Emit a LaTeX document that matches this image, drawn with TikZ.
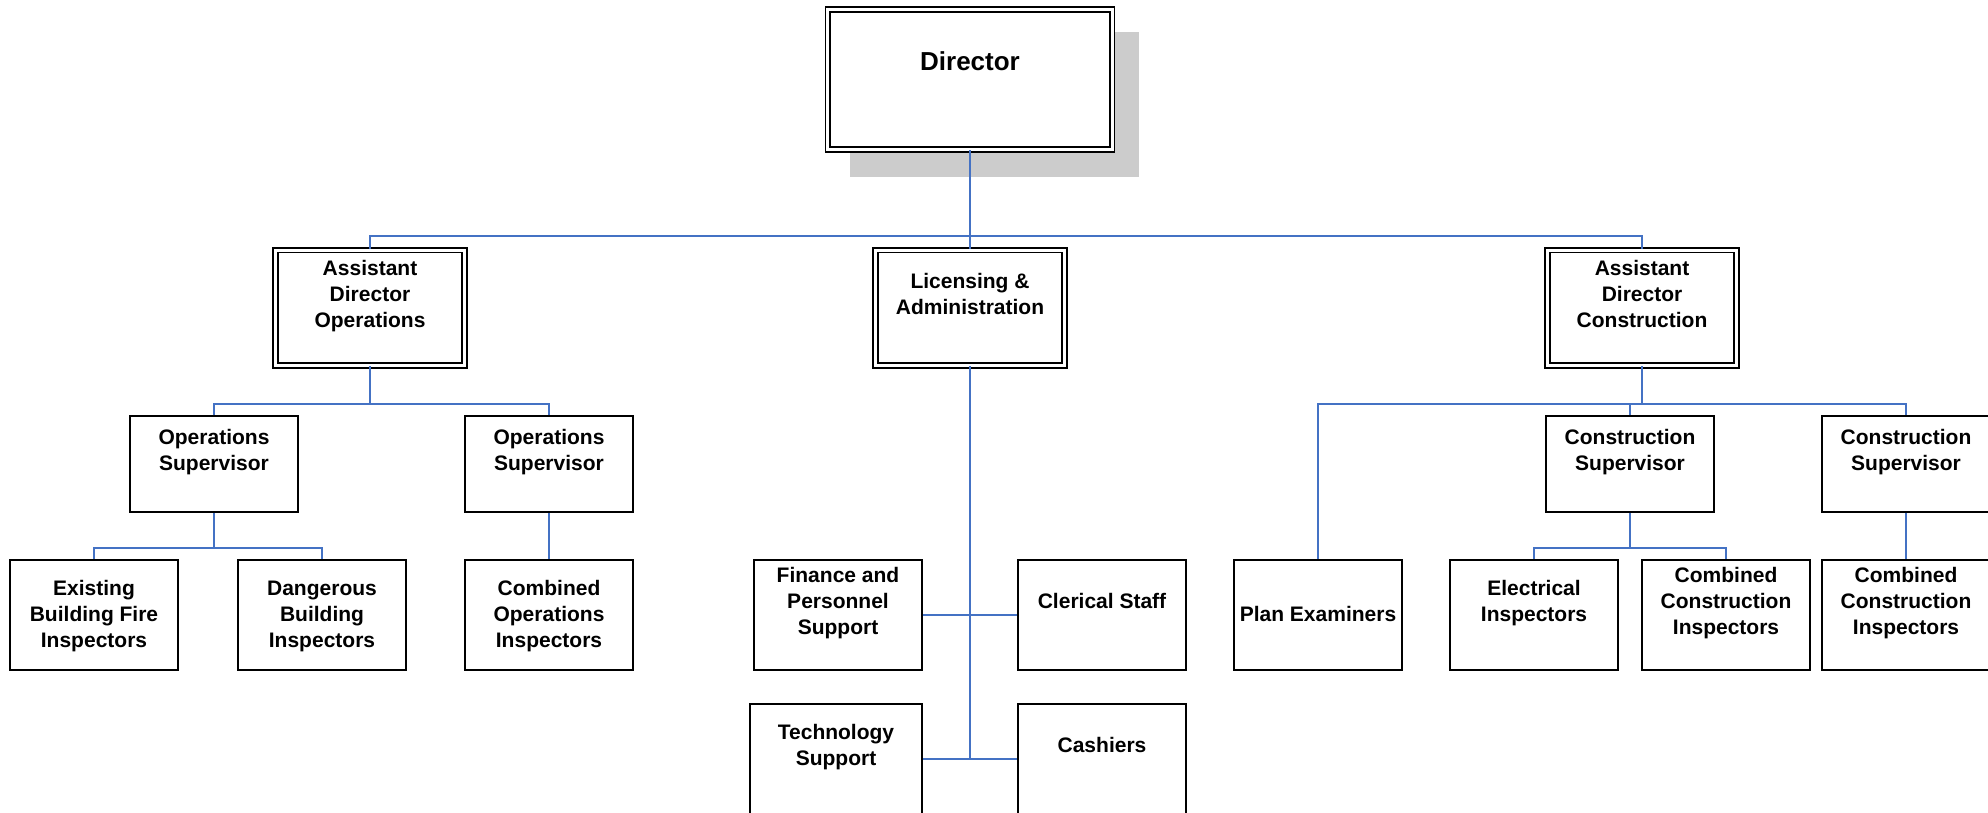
\documentclass[tikz,border=0pt]{standalone}
\usepackage{fontspec}
\setmainfont{Liberation Sans}
\definecolor{orgblue}{HTML}{4472C4}
\definecolor{shadowgray}{HTML}{CCCCCC}
\newcommand\boxtext[2][12pt]{\raisebox{#1}[\height][\depth]{\begin{tabular}{@{}c@{}}#2\end{tabular}}}
\begin{document}
\begin{tikzpicture}[x=1pt,y=-1pt,
  box/.style={draw=black, line width=1.6pt, fill=white, inner sep=0pt,
    minimum width=168pt, minimum height=110pt,
    font=\bfseries\fontsize{21}{26}\selectfont},
  supbox/.style={box, minimum height=96pt},
  dbox/.style={box, double, double distance=3pt, minimum width=189pt, minimum height=115.5pt},
  conn/.style={draw=orgblue, line width=2pt}]
\useasboundingbox (0,0) rectangle (1988,813);

% shadow of the Director box
\fill[shadowgray] (850,32) rectangle (1139,177);

% boxes
\node[dbox, minimum width=284.5pt, minimum height=140pt,
  font=\bfseries\fontsize{26}{31}\selectfont] (dir) at (970,79.5) {\boxtext[15pt]{Director}};
\node[dbox] (ado) at (370,307.8) {\boxtext{Assistant\\Director\\Operations}};
\node[dbox] (la) at (970,307.8) {\boxtext{Licensing \&\\Administration}};
\node[dbox] (adc) at (1642,307.8) {\boxtext{Assistant\\Director\\Construction}};

\node[supbox] (os1) at (214,464) {\boxtext{Operations\\Supervisor}};
\node[supbox] (os2) at (549,464) {\boxtext{Operations\\Supervisor}};
\node[box] (ex) at (94,615) {\boxtext[-1.5pt]{Existing\\Building Fire\\Inspectors}};
\node[box] (dg) at (322,615) {\boxtext[-1.5pt]{Dangerous\\Building\\Inspectors}};
\node[box] (co) at (549,615) {\boxtext[-1.5pt]{Combined\\Operations\\Inspectors}};

\node[box] (fin) at (838,615) {\boxtext{Finance and\\Personnel\\Support}};
\node[box] (cl) at (1102,615) {\boxtext{Clerical Staff}};
\node[box, minimum width=172pt] (tech) at (836,759) {\boxtext{Technology\\Support}};
\node[box] (cash) at (1102,759) {\boxtext{Cashiers}};

\node[box] (plan) at (1318,615) {\boxtext[-1.5pt]{Plan Examiners}};
\node[supbox] (cs1) at (1630,464) {\boxtext{Construction\\Supervisor}};
\node[supbox] (cs2) at (1906,464) {\boxtext{Construction\\Supervisor}};
\node[box] (el) at (1534,615) {\boxtext{Electrical\\Inspectors}};
\node[box] (cb1) at (1726,615) {\boxtext{Combined\\Construction\\Inspectors}};
\node[box] (cb2) at (1906,615) {\boxtext{Combined\\Construction\\Inspectors}};

% bus coordinates
\coordinate (b1) at (970,236);
\coordinate (b2) at (370,404);
\coordinate (b3) at (214,548);
\coordinate (b4) at (970,759);
\coordinate (b5) at (1642,404);
\coordinate (b6) at (1630,548);

% connectors
\draw[conn] (dir.south) -- (la.north);
\draw[conn] (ado.north) -- (ado.north |- b1) -- (adc.north |- b1) -- (adc.north);

\draw[conn] (ado.south) -- (b2);
\draw[conn] (os1.north) |- (b2) -| (os2.north);
\draw[conn] (os1.south) -- (b3);
\draw[conn] (ex.north) |- (b3) -| (dg.north);
\draw[conn] (os2.south) -- (co.north);

\draw[conn] (la.south) -- (b4);
\draw[conn] (fin.east) -- (cl.west);
\draw[conn] (tech.east) -- (cash.west);

\draw[conn] (adc.south) -- (b5);
\draw[conn] (plan.north) |- (b5) -| (cs2.north);
\draw[conn] (cs1.north) -- (cs1.north |- b5);
\draw[conn] (cs1.south) -- (b6);
\draw[conn] (el.north) |- (b6) -| (cb1.north);
\draw[conn] (cs2.south) -- (cb2.north);
\end{tikzpicture}
\end{document}
